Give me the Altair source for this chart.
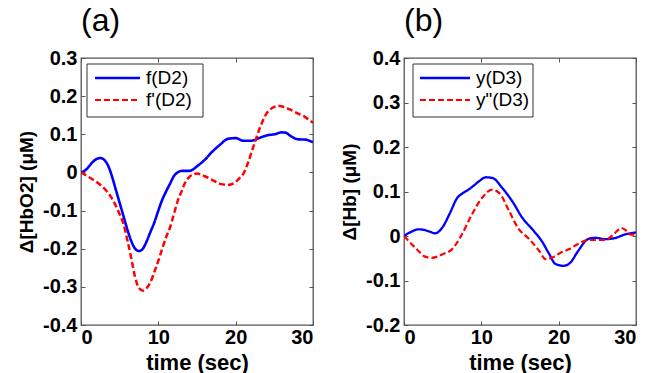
import altair as alt
import pandas as pd

FONT = "Liberation Sans"
W, H = 232, 267

# ---- panel (a): oxy-haemoglobin change ----
a_names = ["f(D2)", "f'(D2)"]
a_t_blue = [0, 0.5, 1, 1.5, 2, 2.5, 3, 3.5, 4, 4.5, 5, 5.5, 6, 6.5, 7, 7.5, 8, 8.5,
            9, 9.5, 10, 10.5, 11, 11.5, 12, 12.5, 13, 13.5, 14, 14.5, 15, 16, 17,
            18, 19, 20, 21, 22, 23, 24, 25, 26, 26.5, 27, 28, 29, 30]
a_blue = [0, 0.005, 0.015, 0.027, 0.035, 0.038, 0.033, 0.018, -0.01, -0.045, -0.08,
          -0.115, -0.15, -0.18, -0.2, -0.206, -0.2, -0.18, -0.155, -0.13, -0.1,
          -0.072, -0.05, -0.03, -0.01, 0.0, 0.004, 0.004, 0.004, 0.008, 0.016,
          0.033, 0.055, 0.073, 0.088, 0.09, 0.083, 0.083, 0.09, 0.097, 0.1, 0.105,
          0.104, 0.097, 0.087, 0.086, 0.079]
a_t_red = [0, 1, 2, 3, 4, 5, 5.5, 6, 6.5, 7, 7.5, 8, 8.5, 9, 9.5, 10, 10.5, 11, 11.5,
           12, 12.5, 13, 13.5, 14, 14.5, 15, 16, 17, 18, 19, 20, 20.5, 21, 21.5, 22,
           22.5, 23, 23.5, 24, 24.5, 25, 25.5, 26, 27, 28, 29, 30]
a_red = [0, -0.012, -0.025, -0.042, -0.068, -0.11, -0.136, -0.178, -0.225, -0.275,
         -0.303, -0.31, -0.303, -0.287, -0.26, -0.232, -0.2, -0.17, -0.145, -0.11,
         -0.075, -0.05, -0.025, -0.012, -0.005, -0.003, -0.01, -0.02, -0.03, -0.033,
         -0.025, -0.015, -0.003, 0.02, 0.05, 0.08, 0.11, 0.135, 0.155, 0.166, 0.172,
         0.175, 0.173, 0.165, 0.155, 0.145, 0.13]
a_y_ticks = [-0.4, -0.3, -0.2, -0.1, 0, 0.1, 0.2, 0.3]

# ---- panel (b): deoxy-haemoglobin change ----
b_names = ["y(D3)", 'y"(D3)']
b_t_blue = [0, 1, 1.8, 2.5, 3.3, 4, 5, 5.9, 6.9, 7.5, 8.4, 9, 9.7, 10.6, 11.5, 12.7,
            14, 15.3, 16.8, 17.8, 18.7, 19.6, 20.6, 21.5, 22.5, 23.8, 24.7, 26, 27.2,
            28.5, 30]
b_blue = [0, 0.01, 0.015, 0.014, 0.01, 0.006, 0.02, 0.05, 0.086, 0.095, 0.105, 0.113,
          0.123, 0.132, 0.13, 0.108, 0.078, 0.041, 0.011, -0.011, -0.038, -0.063,
          -0.067, -0.06, -0.034, -0.007, -0.004, -0.007, -0.005, 0.003, 0.008]
b_t_red = [0, 1.5, 2.8, 3.6, 5, 6.2, 7.5, 8.8, 10.1, 11.4, 12.3, 13.6, 14.7, 16.2,
           17.5, 18.3, 19.1, 20.2, 21.3, 22.5, 23.8, 25.1, 26, 27.3, 28.1, 28.8,
           29.3, 30]
b_red = [0, -0.027, -0.047, -0.049, -0.041, -0.03, 0.004, 0.049, 0.086, 0.104, 0.097,
         0.056, 0.019, -0.007, -0.034, -0.052, -0.049, -0.038, -0.03, -0.018, -0.009,
         -0.009, -0.009, 0.007, 0.018, 0.011, 0.003, 0.003]
b_y_ticks = [-0.2, -0.1, 0, 0.1, 0.2, 0.3, 0.4]

x_ticks = [0, 10, 20, 30]
COLORS = ["#0000ff", "#ff0000"]
DASHES = [[1, 0], [6, 3]]
WIDTHS = [2.6, 2.2]
LABEL_EXPR = "datum.value == 0 ? '0' : replace(format(datum.value, '.1f'), '\u2212', '-')"


def frame(t1, v1, t2, v2, names):
    return pd.concat([
        pd.DataFrame({"t": t1, "v": v1, "series": names[0]}),
        pd.DataFrame({"t": t2, "v": v2, "series": names[1]}),
    ], ignore_index=True)


def panel(df, names, y_dom, y_ticks, y_title, tag, box_x, line_x, text_x):
    x_sc = alt.Scale(domain=[0, 30], nice=False, zero=False)
    y_sc = alt.Scale(domain=y_dom, nice=False, zero=False)
    base = alt.Chart(df)

    lines = base.mark_line(interpolate="monotone", clip=True).encode(
        x=alt.X("t:Q", scale=x_sc, axis=alt.Axis(
            orient="bottom", values=x_ticks, format="d", ticks=False, domain=False,
            grid=False, title="time (sec)", titleFontSize=22, labelPadding=2,
            titlePadding=5)),
        y=alt.Y("v:Q", scale=y_sc, axis=alt.Axis(
            orient="left", values=y_ticks, labelExpr=LABEL_EXPR, ticks=False,
            domain=False, grid=False, title=y_title, titleFontSize=19,
            labelPadding=4, titlePadding=6)),
        color=alt.Color("series:N", scale=alt.Scale(domain=names, range=COLORS), legend=None),
        strokeDash=alt.StrokeDash("series:N", scale=alt.Scale(domain=names, range=DASHES), legend=None),
        strokeWidth=alt.StrokeWidth("series:N", scale=alt.Scale(domain=names, range=WIDTHS), legend=None),
    )

    # inward tick marks on all four sides of the box
    def ticks(x_orient, y_orient):
        common = dict(labels=False, domain=False, grid=False, ticks=True, tickSize=4, title=None)
        return base.mark_point(opacity=0).encode(
            x=alt.X("t:Q", scale=x_sc, axis=alt.Axis(orient=x_orient, offset=-H, values=x_ticks, **common)),
            y=alt.Y("v:Q", scale=y_sc, axis=alt.Axis(orient=y_orient, offset=-W, values=y_ticks, **common)),
        )

    one = pd.DataFrame({"k": [0]})
    label = alt.Chart(one).mark_text(
        align="left", baseline="alphabetic", font=FONT, fontSize=32, color="black").encode(
        x=alt.value(0), y=alt.value(-27), text=alt.value(tag))
    box = alt.Chart(one).mark_rect(fill="white", stroke="#333", strokeWidth=1).encode(
        x=alt.value(box_x[0]), x2=alt.value(box_x[1]), y=alt.value(6), y2=alt.value(59))
    rows = [20, 42]
    legend_layers = []
    for i, name in enumerate(names):
        legend_layers.append(alt.Chart(one).mark_rule(
            color=COLORS[i], strokeDash=DASHES[i], strokeWidth=WIDTHS[i]).encode(
            x=alt.value(line_x[0]), x2=alt.value(line_x[1]), y=alt.value(rows[i])))
        legend_layers.append(alt.Chart(one).mark_text(
            align="left", baseline="middle", font=FONT, fontSize=19, color="black").encode(
            x=alt.value(text_x), y=alt.value(rows[i]), text=alt.value(name)))

    return alt.layer(lines, ticks("top", "right"), ticks("bottom", "left"), box,
                     *legend_layers, label).resolve_axis(
        x="independent", y="independent").properties(width=W, height=H)


pa = panel(frame(a_t_blue, a_blue, a_t_red, a_red, a_names), a_names, [-0.4, 0.3],
           a_y_ticks, "\u0394[HbO2] (\u03bcM)", "(a)", (6, 122), (14, 59), 65)
pb = panel(frame(b_t_blue, b_blue, b_t_red, b_red, b_names), b_names, [-0.2, 0.4],
           b_y_ticks, "\u0394[Hb] (\u03bcM)", "(b)", (9, 129), (16, 66), 72)

chart = alt.hconcat(pa, pb, spacing=91, bounds="flush").configure(
    padding={"left": 16, "top": 4, "right": 0, "bottom": 0},
    background="white",
).configure_view(stroke="#555", strokeWidth=1.3).configure_axis(
    labelFont=FONT, labelFontSize=20, labelFontWeight="bold", labelColor="black",
    titleFont=FONT, titleFontWeight="bold", titleColor="black", tickColor="#555",
    tickWidth=1,
)

chart.save("out.html", embed_options={"renderer": "svg", "actions": False})
